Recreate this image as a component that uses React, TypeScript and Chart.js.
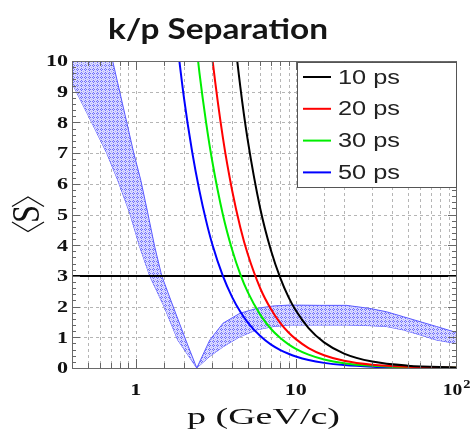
import React, { useEffect, useRef } from 'react';
import { Chart, registerables } from 'chart.js';

Chart.register(...registerables);

// ---------------- data ----------------
const titleText = 'k/p Separation';
const xTitle = 'p (GeV/c)';
const yTitleCore = 'S';

const xMin = 0.4;
const xMax = 100;
const yMin = 0;
const yMax = 10;

const xTickValues = [1, 10, 100];
const xTickLabels = ['1', '10', '10'];
const xTickSups = ['', '', '2'];
const yTickValues = [0, 1, 2, 3, 4, 5, 6, 7, 8, 9, 10];
const yTickLabels = ['0', '1', '2', '3', '4', '5', '6', '7', '8', '9', '10'];

const seriesLabels = ['10 ps', '20 ps', '30 ps', '50 ps'];
const seriesColors = ['#000000', '#ff0000', '#00ee00', '#0000ff'];

const p10 = [3.5, 4, 4.5, 5, 6, 7, 8, 9, 10, 12, 15, 20, 30, 50, 100];
const s10 = [15.0, 11.55, 9.16, 7.44, 5.18, 3.82, 2.93, 2.31, 1.87, 1.3, 0.835, 0.47, 0.209, 0.075, 0.019];

const p20 = [2.75, 3, 3.5, 4, 4.5, 5, 6, 7, 8, 9, 10, 12, 15, 20, 30, 50, 100];
const s20 = [12.0, 10.14, 7.51, 5.78, 4.58, 3.72, 2.59, 1.91, 1.46, 1.157, 0.94, 0.65, 0.417, 0.235, 0.104, 0.038, 0.0094];

const p30 = [2.25, 2.5, 2.75, 3, 3.5, 4, 4.5, 5, 6, 7, 8, 9, 10, 12, 15, 20, 30, 50, 100];
const s30 = [11.75, 9.61, 8.0, 6.76, 5.0, 3.85, 3.05, 2.48, 1.73, 1.27, 0.975, 0.771, 0.625, 0.434, 0.278, 0.157, 0.07, 0.025, 0.006];

const p50 = [1.75, 2, 2.25, 2.5, 2.75, 3, 3.5, 4, 4.5, 5, 6, 7, 8, 9, 10, 12, 15, 20, 30, 50, 100];
const s50 = [11.3, 8.81, 7.05, 5.77, 4.8, 4.05, 3.0, 2.31, 1.83, 1.49, 1.04, 0.76, 0.585, 0.463, 0.375, 0.26, 0.167, 0.094, 0.042, 0.015, 0.0038];

const cutP = [0.4, 100];
const cutS = [3, 3];

const bandLowerP = [0.4, 0.531, 0.659, 0.772, 0.917, 1.059, 1.223, 1.518, 1.83, 2.405, 2.9, 3.51, 4.47, 5.68, 7.21, 9.17, 14.1, 20.7, 29.0, 36.9, 46.9, 59.6, 75.7, 100];
const bandLowerS = [9.28, 8.0, 7.0, 6.12, 5.05, 3.95, 3.0, 1.95, 0.91, 0, 0.38, 0.69, 1.02, 1.24, 1.35, 1.4, 1.4, 1.4, 1.38, 1.35, 1.24, 1.08, 0.91, 0.8];

const bandUpperP = [0.4, 0.6, 0.718, 0.772, 0.879, 0.972, 1.075, 1.189, 1.314, 1.454, 1.727, 2.054, 2.405, 2.9, 3.51, 4.47, 5.68, 7.21, 9.17, 14.1, 20.7, 29.0, 36.9, 46.9, 59.6, 75.7, 100];
const bandUpperS = [12.5, 11.0, 10.0, 9.28, 8.0, 7.0, 6.12, 5.05, 3.95, 3.0, 1.95, 0.91, 0, 0.91, 1.46, 1.78, 1.94, 2.02, 2.05, 2.04, 2.04, 1.94, 1.83, 1.67, 1.51, 1.35, 1.16];

// ---------------- helpers ----------------
const pts = (xs: number[], ys: number[]) => xs.map((x, i) => ({ x, y: ys[i] }));

function drawText(
  ctx: CanvasRenderingContext2D,
  text: string,
  x: number,
  y: number,
  font: string,
  sx: number,
  align: CanvasTextAlign,
  baseline: CanvasTextBaseline,
  color: string
) {
  ctx.save();
  ctx.font = font;
  ctx.fillStyle = color;
  ctx.textAlign = align;
  ctx.textBaseline = baseline;
  ctx.translate(x, y);
  ctx.scale(sx, 1);
  ctx.fillText(text, 0, 0);
  ctx.restore();
}

function scaleFor(ctx: CanvasRenderingContext2D, text: string, font: string, target: number) {
  ctx.save();
  ctx.font = font;
  const w = ctx.measureText(text).width;
  ctx.restore();
  return w > 0 ? target / w : 1;
}

const decorPlugin = {
  id: 'decor',
  beforeDatasetsDraw(chart: any) {
    const { ctx, chartArea: a, scales } = chart;
    const x = scales.x;
    const y = scales.y;
    ctx.save();
    ctx.beginPath();
    ctx.rect(a.left, a.top, a.right - a.left, a.bottom - a.top);
    ctx.clip();
    ctx.strokeStyle = '#b5b5b5';
    ctx.lineWidth = 1;
    ctx.setLineDash([3, 3]);
    for (const t of x.ticks) {
      const px = Math.round(x.getPixelForValue(t.value)) + 0.5;
      ctx.beginPath();
      ctx.moveTo(px, a.top);
      ctx.lineTo(px, a.bottom);
      ctx.stroke();
    }
    for (const v of yTickValues) {
      const py = Math.round(y.getPixelForValue(v)) + 0.5;
      ctx.beginPath();
      ctx.moveTo(a.left, py);
      ctx.lineTo(a.right, py);
      ctx.stroke();
    }
    ctx.restore();
  },
  afterDatasetsDraw(chart: any) {
    const { ctx, chartArea: a, scales } = chart;
    const x = scales.x;
    const y = scales.y;

    // frame
    ctx.save();
    ctx.strokeStyle = '#6a6a6a';
    ctx.lineWidth = 1;
    ctx.strokeRect(Math.round(a.left) + 0.5, Math.round(a.top) + 0.5, Math.round(a.right - a.left), Math.round(a.bottom - a.top));

    // ticks (inside)
    ctx.strokeStyle = '#666';
    ctx.beginPath();
    for (let i = 0; i <= (yMax - yMin) * 5; i++) {
      const v = yMin + i * 0.2;
      const py = Math.round(y.getPixelForValue(v)) + 0.5;
      const major = i % 5 === 0;
      const len = major ? 8 : 4;
      ctx.moveTo(a.left, py);
      ctx.lineTo(a.left + len, py);
      ctx.moveTo(a.right, py);
      ctx.lineTo(a.right - len, py);
    }
    for (const t of x.ticks) {
      const px = Math.round(x.getPixelForValue(t.value)) + 0.5;
      const lg = Math.log10(t.value);
      const major = Math.abs(lg - Math.round(lg)) < 1e-6;
      const len = major ? 9 : 5;
      ctx.moveTo(px, a.bottom);
      ctx.lineTo(px, a.bottom - len);
      ctx.moveTo(px, a.top);
      ctx.lineTo(px, a.top + len);
    }
    ctx.stroke();
    ctx.restore();

    // y tick labels
    const tickFont = 'bold 17px "Liberation Serif", "Times New Roman", serif';
    yTickValues.forEach((v, i) => {
      const py = y.getPixelForValue(v);
      drawText(ctx, yTickLabels[i], a.left - 4, py + 1, tickFont, 1.3, 'right', 'middle', '#111');
    });
    // x tick labels
    xTickValues.forEach((v, i) => {
      const px = x.getPixelForValue(v);
      const base = xTickLabels[i];
      const sup = xTickSups[i];
      if (!sup) {
        drawText(ctx, base, px, a.bottom + 23, tickFont, 1.3, 'center', 'middle', '#111');
      } else {
        const supFont = 'bold 12px "Liberation Serif", "Times New Roman", serif';
        ctx.save();
        ctx.font = tickFont;
        const wb = ctx.measureText(base).width * 1.15;
        ctx.font = supFont;
        const ws = ctx.measureText(sup).width * 1.2;
        ctx.restore();
        const left = px - (wb + ws) / 2;
        drawText(ctx, base, left, a.bottom + 23, tickFont, 1.15, 'left', 'middle', '#111');
        drawText(ctx, sup, left + wb + 1, a.bottom + 17, supFont, 1.2, 'left', 'middle', '#111');
      }
    });

    // x axis title
    const xtFont = '24px "Liberation Serif", "Times New Roman", serif';
    drawText(ctx, xTitle, 187, 423.5, xtFont, scaleFor(ctx, xTitle, xtFont, 153), 'left', 'alphabetic', '#111');

    // y axis title: rotated <S> with drawn angle brackets
    ctx.save();
    ctx.strokeStyle = '#111';
    ctx.lineWidth = 1.3;
    ctx.beginPath();
    ctx.moveTo(12, 206.5);
    ctx.lineTo(28, 197);
    ctx.lineTo(44, 206.5);
    ctx.moveTo(12, 222);
    ctx.lineTo(28, 231.5);
    ctx.lineTo(44, 222);
    ctx.stroke();
    const ytFont = '26px "Liberation Serif", "Times New Roman", serif';
    ctx.translate(29, 214);
    ctx.rotate(-Math.PI / 2);
    ctx.font = ytFont;
    const sw = ctx.measureText(yTitleCore).width;
    ctx.scale(18 / sw, 1.5);
    ctx.fillStyle = '#111';
    ctx.textAlign = 'center';
    ctx.textBaseline = 'middle';
    ctx.fillText(yTitleCore, 0, 0);
    ctx.restore();

    // legend
    const lx0 = 297;
    const ly0 = 62;
    const lw = a.right - lx0 + 1;
    const lh = 126;
    ctx.save();
    ctx.fillStyle = '#ffffff';
    ctx.fillRect(lx0, ly0, lw, lh);
    ctx.strokeStyle = '#555';
    ctx.lineWidth = 1;
    ctx.strokeRect(lx0 + 0.5, ly0 + 0.5, lw - 1, lh - 1);
    const legFont = '20px "Liberation Sans", Arial, sans-serif';
    const lsx = scaleFor(ctx, seriesLabels[0], legFont, 62);
    seriesLabels.forEach((lab, i) => {
      const cy = 77 + i * 31.8;
      ctx.strokeStyle = seriesColors[i];
      ctx.lineWidth = 2;
      ctx.beginPath();
      ctx.moveTo(303, cy);
      ctx.lineTo(331, cy);
      ctx.stroke();
      drawText(ctx, lab, 338, cy + 1, legFont, lsx, 'left', 'middle', '#222');
    });
    ctx.restore();

    // title
    const tFont = 'bold 29px Lato, "Open Sans", sans-serif';
    drawText(ctx, titleText, 108, 39, tFont, scaleFor(ctx, titleText, tFont, 220), 'left', 'alphabetic', '#151515');
  },
};

function makePattern(): CanvasPattern | string {
  const pc = document.createElement('canvas');
  pc.width = 4;
  pc.height = 4;
  const g = pc.getContext('2d');
  if (!g) return 'rgba(150,150,255,0.5)';
  g.fillStyle = 'rgba(215,215,255,0.92)';
  g.fillRect(0, 0, 4, 4);
  g.fillStyle = 'rgba(90,90,250,0.85)';
  g.fillRect(1, 0, 1, 1);
  g.fillRect(0, 1, 1, 1);
  g.fillRect(2, 1, 1, 1);
  g.fillRect(1, 2, 1, 1);
  g.fillStyle = 'rgba(150,150,250,0.7)';
  g.fillRect(3, 3, 1, 1);
  const pat = g.createPattern(pc, 'repeat');
  return pat || 'rgba(150,150,255,0.5)';
}

export default function App() {
  const ref = useRef<HTMLCanvasElement | null>(null);

  useEffect(() => {
    if (!ref.current) return;
    const pattern = makePattern();
    const bandEdge = '#5a5aff';
    const curveSets = [
      [p10, s10],
      [p20, s20],
      [p30, s30],
      [p50, s50],
    ].map(([px, sy], i) => ({
      label: seriesLabels[i],
      data: pts(px as number[], sy as number[]),
      borderColor: seriesColors[i],
      backgroundColor: seriesColors[i],
      borderWidth: 2,
      pointRadius: 0,
      fill: false,
      cubicInterpolationMode: 'monotone' as const,
      order: 1 + i,
    }));

    const chart = new Chart(ref.current, {
      type: 'line',
      data: {
        datasets: [
          {
            label: 'band lower',
            data: pts(bandLowerP, bandLowerS),
            borderColor: bandEdge,
            borderWidth: 1,
            pointRadius: 0,
            fill: false,
            tension: 0,
            order: 20,
          },
          {
            label: 'band upper',
            data: pts(bandUpperP, bandUpperS),
            borderColor: bandEdge,
            backgroundColor: pattern as any,
            borderWidth: 1,
            pointRadius: 0,
            fill: '-1',
            tension: 0,
            order: 19,
          },
          {
            label: 'cut',
            data: pts(cutP, cutS),
            borderColor: '#000',
            borderWidth: 2,
            pointRadius: 0,
            fill: false,
            order: 10,
          },
          ...curveSets,
        ] as any,
      },
      options: {
        responsive: false,
        devicePixelRatio: 1,
        animation: false,
        layout: { padding: { top: 61, right: 16, left: 0, bottom: 0 } },
        plugins: {
          legend: { display: false },
          title: { display: false },
          tooltip: { enabled: false },
        },
        scales: {
          x: {
            type: 'logarithmic',
            min: xMin,
            max: xMax,
            grid: { display: false },
            border: { display: false },
            ticks: { display: false, autoSkip: false },
            afterFit: (s: any) => {
              s.height = 64;
            },
          },
          y: {
            type: 'linear',
            min: yMin,
            max: yMax,
            grid: { display: false },
            border: { display: false },
            ticks: { display: false, stepSize: 1 },
            afterFit: (s: any) => {
              s.width = 72;
            },
          },
        },
      },
      plugins: [decorPlugin],
    });
    return () => chart.destroy();
  }, []);

  return (
    <div style={{ position: 'fixed', left: 0, top: 0, width: 472, height: 432, background: '#fff' }}>
      <canvas ref={ref} width={472} height={432} style={{ display: 'block' }} />
    </div>
  );
}
